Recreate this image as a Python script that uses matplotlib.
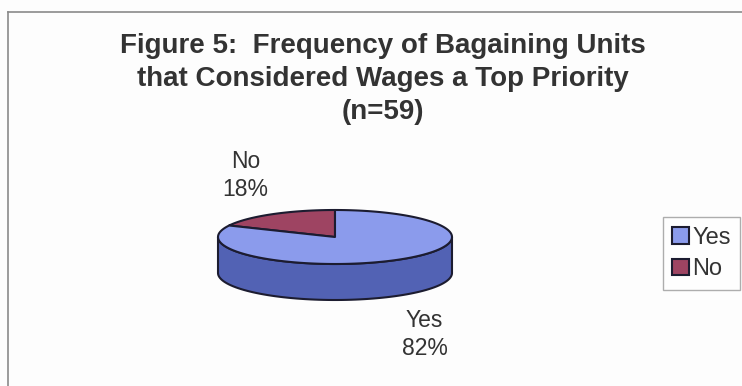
import numpy as np
import matplotlib
matplotlib.use('Agg')
from matplotlib import pyplot as plt
from matplotlib.patches import Polygon, Patch
from matplotlib.lines import Line2D

plt.rcParams['font.family'] = ['Liberation Sans', 'DejaVu Sans']

# data
labels = ['Yes', 'No']
shares = [82, 18]
title = 'Figure 5:  Frequency of Bagaining Units\nthat Considered Wages a Top Priority\n(n=59)'

top_colors = ['#8b9bec', '#9e4462']
side_colors = ['#5262b4', '#6e2440']
edge = '#1c1c30'
text_col = '#333333'

fig = plt.figure(figsize=(7.42, 3.86), dpi=100)
fig.patch.set_facecolor('#fdfdfd')
ax = fig.add_axes([0, 0, 1, 1])
ax.set_xlim(0, 742)
ax.set_ylim(386, 0)
ax.axis('off')

# chart area border (top + left)
ax.add_line(Line2D([8, 742], [12, 12], color='#8a8a8a', lw=1.2))
ax.add_line(Line2D([8, 8], [12, 386], color='#8a8a8a', lw=1.2))

ax.text(383, 79, title, ha='center', va='center', fontsize=20,
        fontweight='bold', color=text_col, linespacing=1.36)

# pie geometry (pixels)
cx, cy, rx, ry, depth = 335, 237, 117, 27, 36


def pt(a, dz=0):
    a = np.radians(a)
    return cx + rx * np.cos(a), cy - ry * np.sin(a) + dz


# wedges: "No" starts at 12 o'clock going counter-clockwise, then "Yes"
order = [1, 0]
start = 90.0
spans = {}
for i in order:
    sweep = shares[i] / sum(shares) * 360
    spans[i] = (start, start + sweep)
    start += sweep

# side walls (front half only: 180..360)
for i in order:
    a0, a1 = spans[i]
    for off in (0, 360, -360):
        lo, hi = max(a0 + off, 180), min(a1 + off, 360)
        if hi <= lo:
            continue
        angs = np.linspace(lo, hi, 80)
        topp = [pt(a) for a in angs]
        bot = [pt(a, depth) for a in angs[::-1]]
        ax.add_patch(Polygon(topp + bot, closed=True, facecolor=side_colors[i],
                             edgecolor=edge, lw=1.5, joinstyle='round'))

# top faces
for i in order:
    a0, a1 = spans[i]
    angs = np.linspace(a0, a1, 200)
    poly = [(cx, cy)] + [pt(a) for a in angs]
    ax.add_patch(Polygon(poly, closed=True, facecolor=top_colors[i],
                         edgecolor=edge, lw=1.5, joinstyle='round'))

# labels outside
for i in order:
    a0, a1 = spans[i]
    mid = np.radians((a0 + a1) / 2)
    lx = cx + 1.43 * rx * np.cos(mid)
    ly = cy - 2.7 * ry * np.sin(mid) + (depth if np.sin(mid) < 0 else 0)
    ax.text(lx, ly, '%s\n%d%%' % (labels[i], shares[i]), ha='center', va='center',
            fontsize=16.5, color=text_col, linespacing=1.3)

handles = [Patch(facecolor=top_colors[i], edgecolor=edge, lw=1.5) for i in range(2)]
leg = ax.legend(handles, labels, loc='center left', bbox_to_anchor=(0.893, 0.343),
                fontsize=17, frameon=True, fancybox=False, handlelength=0.7,
                handleheight=0.7, handletextpad=0.15, borderpad=0.4, labelspacing=0.4,
                borderaxespad=0)
leg.get_frame().set_edgecolor('#999999')
leg.get_frame().set_linewidth(1.0)
for t in leg.get_texts():
    t.set_color(text_col)

fig.savefig('out.png', dpi=100, facecolor=fig.get_facecolor())
